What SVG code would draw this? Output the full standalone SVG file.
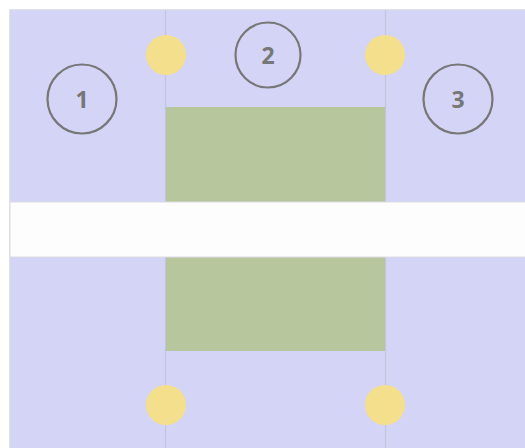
<svg xmlns="http://www.w3.org/2000/svg" width="525" height="448" viewBox="0 0 525 448">
<style>
.bg{fill:#d4d4f6}
.green{fill:#b8c69d}
.road{fill:#fdfdfd;stroke:#dcdce4;stroke-width:1}
.seam{stroke:#c4c4dc;stroke-width:1.2;fill:none}
.edge{stroke:#d8d8e6;stroke-width:1.5;fill:none}
.dot{fill:#f3df8c}
.ring{fill:none;stroke:#777;stroke-width:2.2}
.lbl{font-family:"Open Sans","DejaVu Sans",sans-serif;font-weight:bold;font-size:23px;fill:#777;text-anchor:middle;dominant-baseline:central}
</style>
<rect x="0" y="0" width="525" height="448" fill="#ffffff"/>
<rect class="bg" x="10" y="10" width="515" height="438"/>
<path class="edge" d="M10,448 V10 H525"/>
<g id="connectors">
<line class="seam" x1="165.5" y1="10" x2="165.5" y2="448"/>
<line class="seam" x1="385.5" y1="10" x2="385.5" y2="448"/>
</g>
<g id="green-top"><rect class="green" x="166" y="107" width="219" height="95"/></g>
<g id="green-bottom"><rect class="green" x="166" y="257" width="219" height="94"/></g>
<g id="road"><rect class="road" x="10" y="202" width="520" height="55"/></g>
<g id="dot-tl"><circle class="dot" cx="166" cy="55" r="20"/></g>
<g id="dot-tr"><circle class="dot" cx="385" cy="55" r="20"/></g>
<g id="dot-bl"><circle class="dot" cx="166" cy="405" r="20"/></g>
<g id="dot-br"><circle class="dot" cx="385" cy="405" r="20"/></g>
<g id="n1"><circle class="ring" cx="82" cy="99" r="34.5"/><text class="lbl" x="82" y="99">1</text></g>
<g id="n2"><circle class="ring" cx="268" cy="55" r="32.5"/><text class="lbl" x="268" y="55">2</text></g>
<g id="n3"><circle class="ring" cx="458" cy="99" r="34.5"/><text class="lbl" x="458" y="99">3</text></g>
</svg>
